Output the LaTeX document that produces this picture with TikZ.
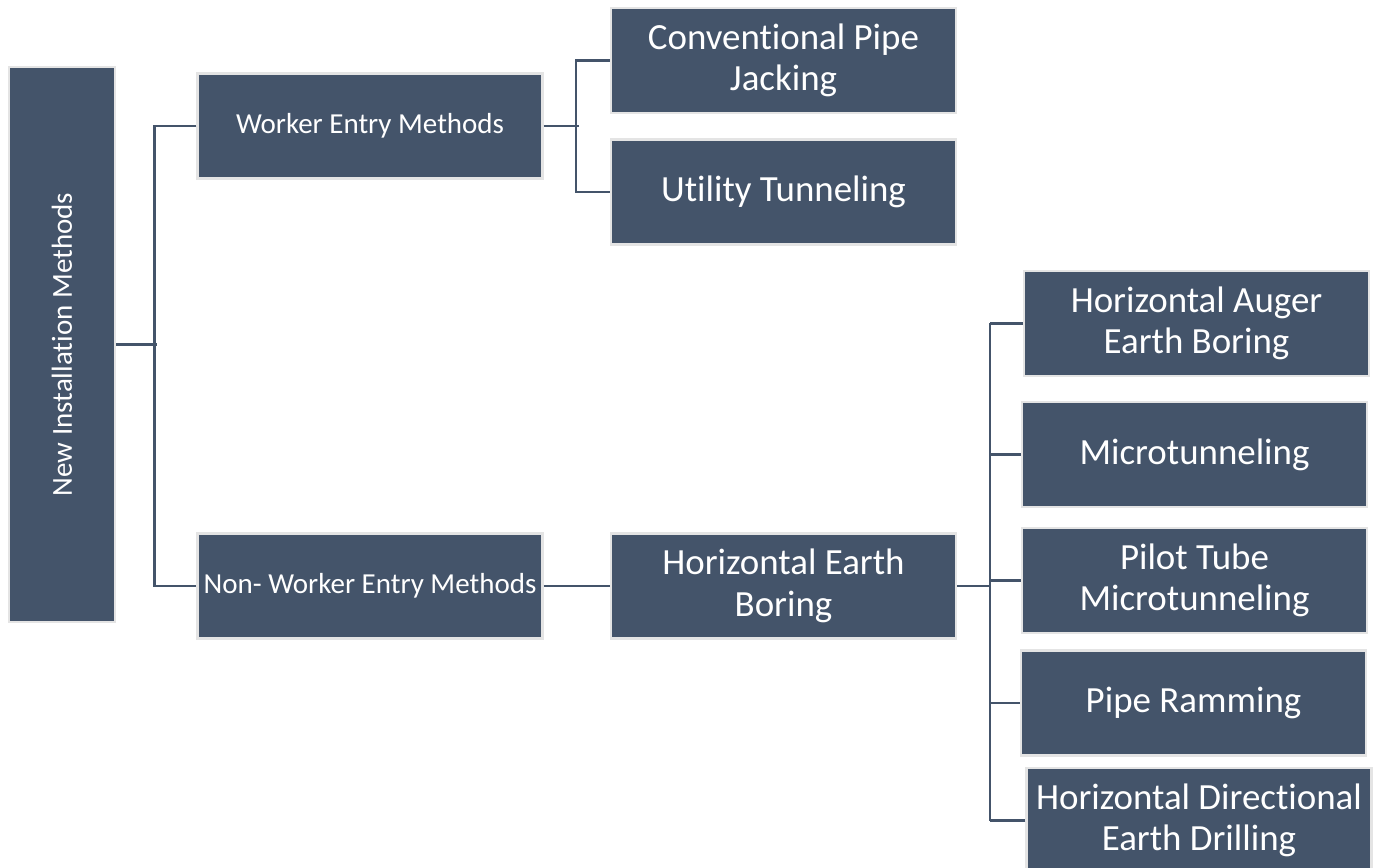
\documentclass[tikz,border=0pt]{standalone}
\usepackage{fontspec}
\setmainfont[RawFeature={-liga;-clig;-calt;-dlig;-rlig}]{Carlito}
\definecolor{slate}{HTML}{44546A}
\definecolor{rim}{HTML}{E4E4E4}
\begin{document}
\begin{tikzpicture}[
    box/.style={fill=slate, draw=rim, line width=1.2pt, text=white, align=center,
        minimum width=6.9cm, minimum height=2.1cm, inner sep=0pt},
    big/.style={font=\fontsize{21}{23.5}\selectfont},
    small/.style={font=\fontsize{16.5}{19}\selectfont},
    link/.style={draw=slate, line width=1.6pt}]
        \useasboundingbox (0,0) rectangle (27.62,-17.36);
        \node[box,small,rotate=90,minimum width=11.1cm,minimum height=2.12cm] (root) at (1.24,-6.89) {New Installation Methods};
        \node[box,small] (worker) at (7.40,-2.52) {Worker Entry Methods};
        \node[box,small] (nonworker) at (7.40,-11.72) {Non- Worker Entry Methods};
        \node[box,big] (jacking) at (15.67,-1.21) {Conventional Pipe\\Jacking};
        \node[box,big] (tunneling) at (15.67,-3.84) {Utility Tunneling};
        \node[box,big] (boring) at (15.67,-11.72) {Horizontal Earth\\Boring};
        \node[box,big] (auger) at (23.93,-6.47) {Horizontal Auger\\Earth Boring};
        \node[box,big] (micro) at (23.89,-9.09) {Microtunneling};
        \node[box,big] (pilot) at (23.89,-11.61) {Pilot Tube\\Microtunneling};
        \node[box,big] (ramming) at (23.87,-14.06) {Pipe Ramming};
        \node[box,big] (hdd) at (23.98,-16.41) {Horizontal Directional\\Earth Drilling};
        % first level
        \draw[link] (root.south) -- ++(0.82,0);
        \draw[link] (worker.west) -- ++(-0.84,0) |- (nonworker.west);
        % worker entry
        \draw[link] (worker.east) -- ++(0.70,0);
        \draw[link] (jacking.west) -- ++(-0.68,0) |- (tunneling.west);
        \draw[link] (nonworker) -- (boring);
        % earth boring branches
        \coordinate (bus) at (19.8,0);
        \draw[link] (boring.east) -- (boring.east -| bus);
        \draw[link] (auger.west -| bus) -- (hdd.west -| bus);
        \foreach \n in {auger,micro,pilot,ramming,hdd}
            \draw[link] (\n.west) -- (\n.west -| bus);
    \end{tikzpicture}
\end{document}
